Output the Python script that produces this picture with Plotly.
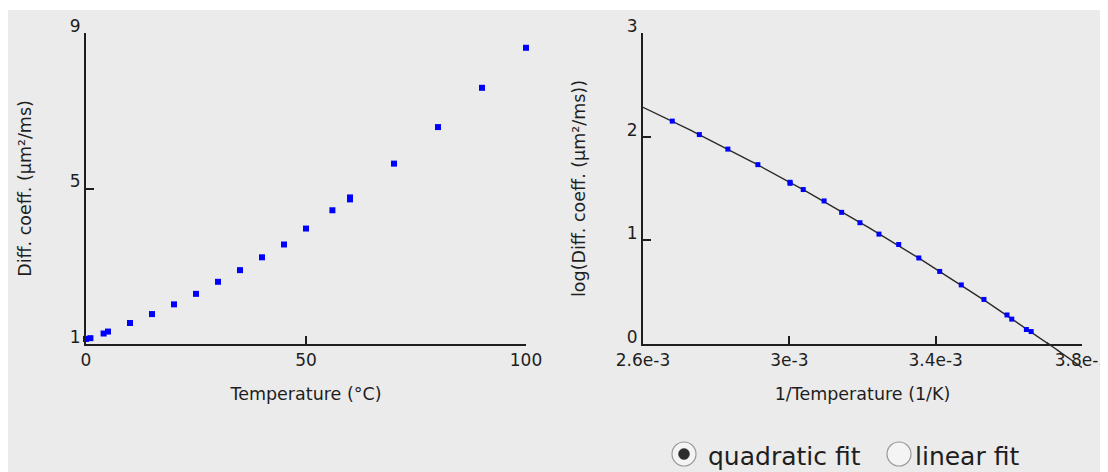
import numpy as np
import plotly.graph_objects as go
from plotly.subplots import make_subplots

# ---- data ----
temp_c = [0, 1, 4, 5, 10, 15, 20, 25, 30, 35, 40, 45, 50, 56, 60, 60, 70, 80, 90, 100]
diff_coeff = [1.13, 1.15, 1.27, 1.32, 1.54, 1.77, 2.02, 2.29, 2.60, 2.90, 3.23, 3.56,
              3.97, 4.44, 4.72, 4.77, 5.64, 6.58, 7.59, 8.62]

inv_temp = [3.661e-3, 3.648e-3, 3.608e-3, 3.595e-3, 3.532e-3, 3.470e-3, 3.411e-3,
            3.354e-3, 3.299e-3, 3.245e-3, 3.193e-3, 3.143e-3, 3.095e-3, 3.038e-3,
            3.002e-3, 3.002e-3, 2.914e-3, 2.832e-3, 2.754e-3, 2.680e-3]
log_diff = [0.12, 0.14, 0.24, 0.28, 0.43, 0.57, 0.70, 0.83, 0.96, 1.06, 1.17, 1.27,
            1.38, 1.49, 1.55, 1.56, 1.73, 1.88, 2.02, 2.15]

left_xticks = [0, 50, 100]
left_yticks = [1, 5, 9]
right_xticks = [2.6e-3, 3.0e-3, 3.4e-3, 3.8e-3]
right_xticktext = ["2.6e-3", "3e-3", "3.4e-3", "3.8e-3"]
right_yticks = [0, 1, 2, 3]
radio_labels = ["quadratic fit", "linear fit"]

# ---- quadratic fit of the Arrhenius plot ----
coef = np.polyfit(inv_temp, log_diff, 2)
fit_x = np.linspace(right_xticks[0], right_xticks[-1], 200)
fit_y = np.polyval(coef, fit_x)

BG = "#ebebeb"
INK = "#1e1e1e"
FONT = "DejaVu Sans"

# page has an 8px body margin around the figure
OFF = 8
W, H = 1108 - OFF, 472 - OFF
ML, MR, MT, MB = 86 - OFF, 26, 33 - OFF, 128
PW = W - ML - MR
PH = H - MT - MB


def px_to_paper_x(px):  # px given in page pixels
    return (px - OFF - ML) / PW


def px_to_paper_y(py):
    return (H - MB - (py - OFF)) / PH


fig = make_subplots(rows=1, cols=2)

fig.add_trace(go.Scatter(x=temp_c, y=diff_coeff, mode="markers",
                         marker=dict(symbol="square", size=6, color="#0000ff"),
                         cliponaxis=False, showlegend=False), row=1, col=1)
fig.add_trace(go.Scatter(x=fit_x, y=fit_y, mode="lines",
                         line=dict(color="#2a2a2a", width=1.4),
                         showlegend=False), row=1, col=2)
fig.add_trace(go.Scatter(x=inv_temp, y=log_diff, mode="markers",
                         marker=dict(symbol="square", size=5, color="#0000ff"),
                         cliponaxis=False, showlegend=False), row=1, col=2)

# tail of the fit line below the x axis (drawn beyond the plot area)
neg = fit_y < 0
if neg.any():
    i0 = int(np.argmax(neg))
    tx = fit_x[i0 - 1:]
    ty = fit_y[i0 - 1:] / (right_yticks[-1] - right_yticks[0])
    path = "M " + " L ".join(f"{a:.6e},{b:.5f}" for a, b in zip(tx, ty))
    fig.add_shape(type="path", path=path, xref="x2", yref="y2 domain",
                  line=dict(color="#2a2a2a", width=1.4), layer="above")

axis_common = dict(showline=True, linecolor=INK, linewidth=2, ticks="inside",
                   ticklen=8, tickwidth=1.5, tickcolor=INK, showgrid=False,
                   zeroline=False, tickfont=dict(family=FONT, size=17, color=INK),
                   mirror=False, ticklabeloverflow="allow")

d_left = [0, px_to_paper_x(526)]
d_right = [px_to_paper_x(643), 1]

fig.update_xaxes(axis_common, row=1, col=1)
fig.update_xaxes(axis_common, row=1, col=2)
fig.update_yaxes(axis_common, row=1, col=1)
fig.update_yaxes(axis_common, row=1, col=2)

title_font = dict(family=FONT, size=17.5, color=INK)
fig.update_layout(
    xaxis=dict(domain=d_left, range=[0, 100], tickvals=left_xticks,
               title=dict(text="Temperature (°C)", standoff=18, font=title_font)),
    yaxis=dict(domain=[0, 1], range=[1, 9], tickvals=left_yticks, ticklabelshift=-7,
               title=dict(text="Diff. coeff. (µm²/ms)", standoff=34, font=title_font)),
    xaxis2=dict(domain=d_right, range=[2.6e-3, 3.8e-3], tickvals=right_xticks,
                ticktext=right_xticktext,
                title=dict(text="1/Temperature (1/K)", standoff=18, font=title_font)),
    yaxis2=dict(domain=[0, 1], range=[0, 3], tickvals=right_yticks, ticklabelshift=-7,
                title=dict(text="log(Diff. coeff. (µm²/ms))", standoff=37, font=title_font)),
    width=W, height=H,
    margin=dict(l=ML, r=MR, t=MT, b=MB, autoexpand=False),
    paper_bgcolor=BG, plot_bgcolor=BG,
    font=dict(family=FONT, color=INK),
    showlegend=False,
)

# thin white strip along the top edge
fig.add_shape(type="rect", xref="paper", yref="paper",
              x0=px_to_paper_x(0), x1=px_to_paper_x(1120),
              y0=px_to_paper_y(10), y1=px_to_paper_y(0),
              fillcolor="white", line=dict(width=0), layer="below")

# radio buttons
cy = px_to_paper_y(454)
for cx_px, selected in [(684, True), (899, False)]:
    cx = px_to_paper_x(cx_px)
    fig.add_shape(type="circle", xref="paper", yref="paper",
                  xsizemode="pixel", ysizemode="pixel", xanchor=cx, yanchor=cy,
                  x0=-12, x1=12, y0=-12, y1=12,
                  fillcolor="#f4f4f4", line=dict(color="#9a9a9a", width=1.2),
                  layer="above")
    if selected:
        fig.add_shape(type="circle", xref="paper", yref="paper",
                      xsizemode="pixel", ysizemode="pixel", xanchor=cx, yanchor=cy,
                      x0=-5.5, x1=5.5, y0=-5.5, y1=5.5,
                      fillcolor="#2c2c2c", line=dict(color="#2c2c2c", width=0.5),
                      layer="above")

for lbl, lx in zip(radio_labels, [706, 913]):
    fig.add_annotation(text=lbl, xref="paper", yref="paper",
                       x=px_to_paper_x(lx), y=px_to_paper_y(456),
                       xanchor="left", yanchor="middle", showarrow=False,
                       font=dict(family=FONT, size=25, color=INK))

fig.write_html("out.html", post_script="document.body.style.overflow='hidden';")
